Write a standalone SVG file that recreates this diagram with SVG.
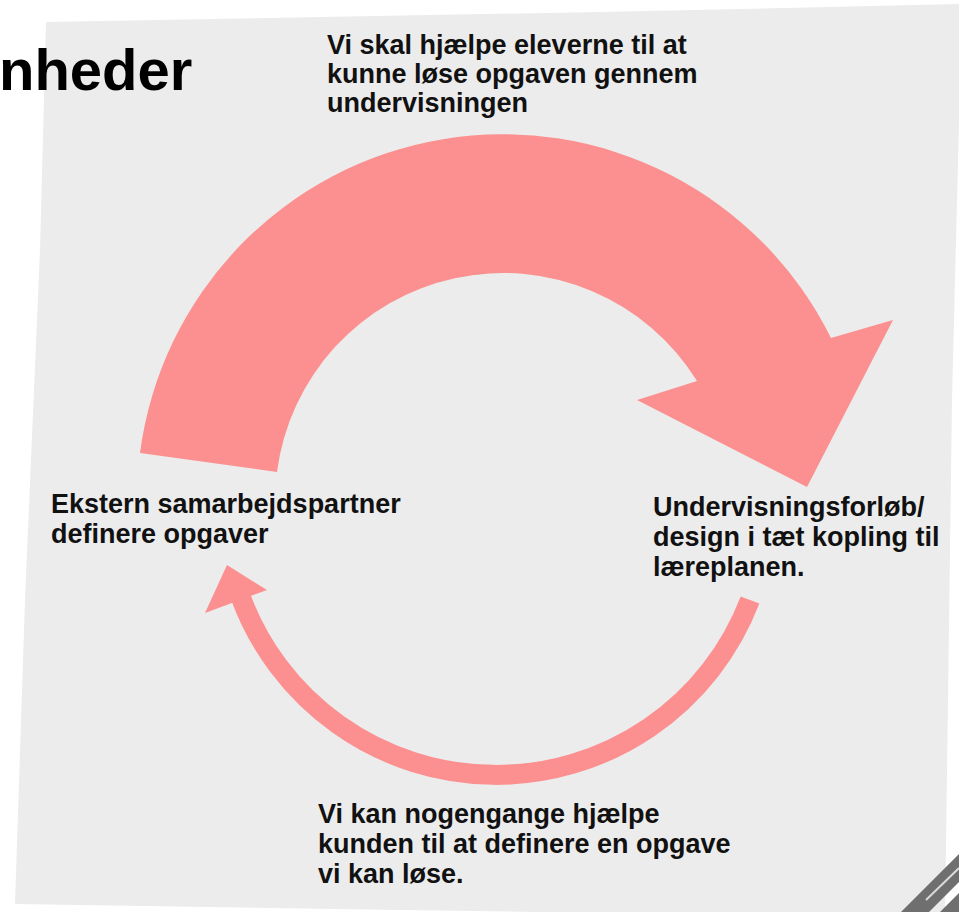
<svg xmlns="http://www.w3.org/2000/svg" width="959" height="912" viewBox="0 0 959 912">
  <style>
    .lbl { font-family: "Liberation Sans", Arial, sans-serif; font-weight: bold; font-size: 27px; fill: #111111; }
    .title { font-family: "Liberation Sans", Arial, sans-serif; font-weight: bold; font-size: 58px; fill: #000000; }
    .arrow { fill: #fc9090; }
  </style>
  <rect x="0" y="0" width="959" height="912" fill="#ffffff"/>
  <g id="panel">
    <polygon points="46,22 600,12 962,4 952,400 948,700 945,918 400,910 15,904 25,600 40,250" fill="#ececec"/>
  </g>
  <g id="title">
    <text class="title" x="-1" y="90">nheder</text>
  </g>
  <g id="connectors">
    <path id="big-arrow" class="arrow" d="M140,453 A366,366 0 0 1 831,338 L893,320 L807,487 L637,400 L697,381 A228,228 0 0 0 277,472 Z"/>
    <path id="small-arrow-shaft" d="M750,600 A272,272 0 0 1 240,595" fill="none" stroke="#fc9090" stroke-width="20"/>
    <polygon id="small-arrow-head" class="arrow" points="227,565 267,590 205,613"/>
  </g>
  <g id="node-top">
    <text class="lbl" x="327" y="54">Vi skal hjælpe eleverne til at</text>
    <text class="lbl" x="327" y="83">kunne løse opgaven gennem</text>
    <text class="lbl" x="327" y="112">undervisningen</text>
  </g>
  <g id="node-left">
    <text class="lbl" x="51" y="513">Ekstern samarbejdspartner</text>
    <text class="lbl" x="51" y="543">definere opgaver</text>
  </g>
  <g id="node-right">
    <text class="lbl" x="653" y="516">Undervisningsforløb/</text>
    <text class="lbl" x="653" y="546">design i tæt kopling til</text>
    <text class="lbl" x="653" y="576">læreplanen.</text>
  </g>
  <g id="node-bottom">
    <text class="lbl" x="318" y="823">Vi kan nogengange hjælpe</text>
    <text class="lbl" x="318" y="853">kunden til at definere en opgave</text>
    <text class="lbl" x="318" y="883">vi kan løse.</text>
  </g>
  <g id="corner-stripes">
    <polygon points="901,912 959,854 959,882 929,912" fill="#6f6f6f"/>
    <line x1="926" y1="900" x2="959" y2="868" stroke="#d9d9d9" stroke-width="2"/>
    <polygon points="940,912 959,893 959,912" fill="#6f6f6f"/>
  </g>
</svg>
